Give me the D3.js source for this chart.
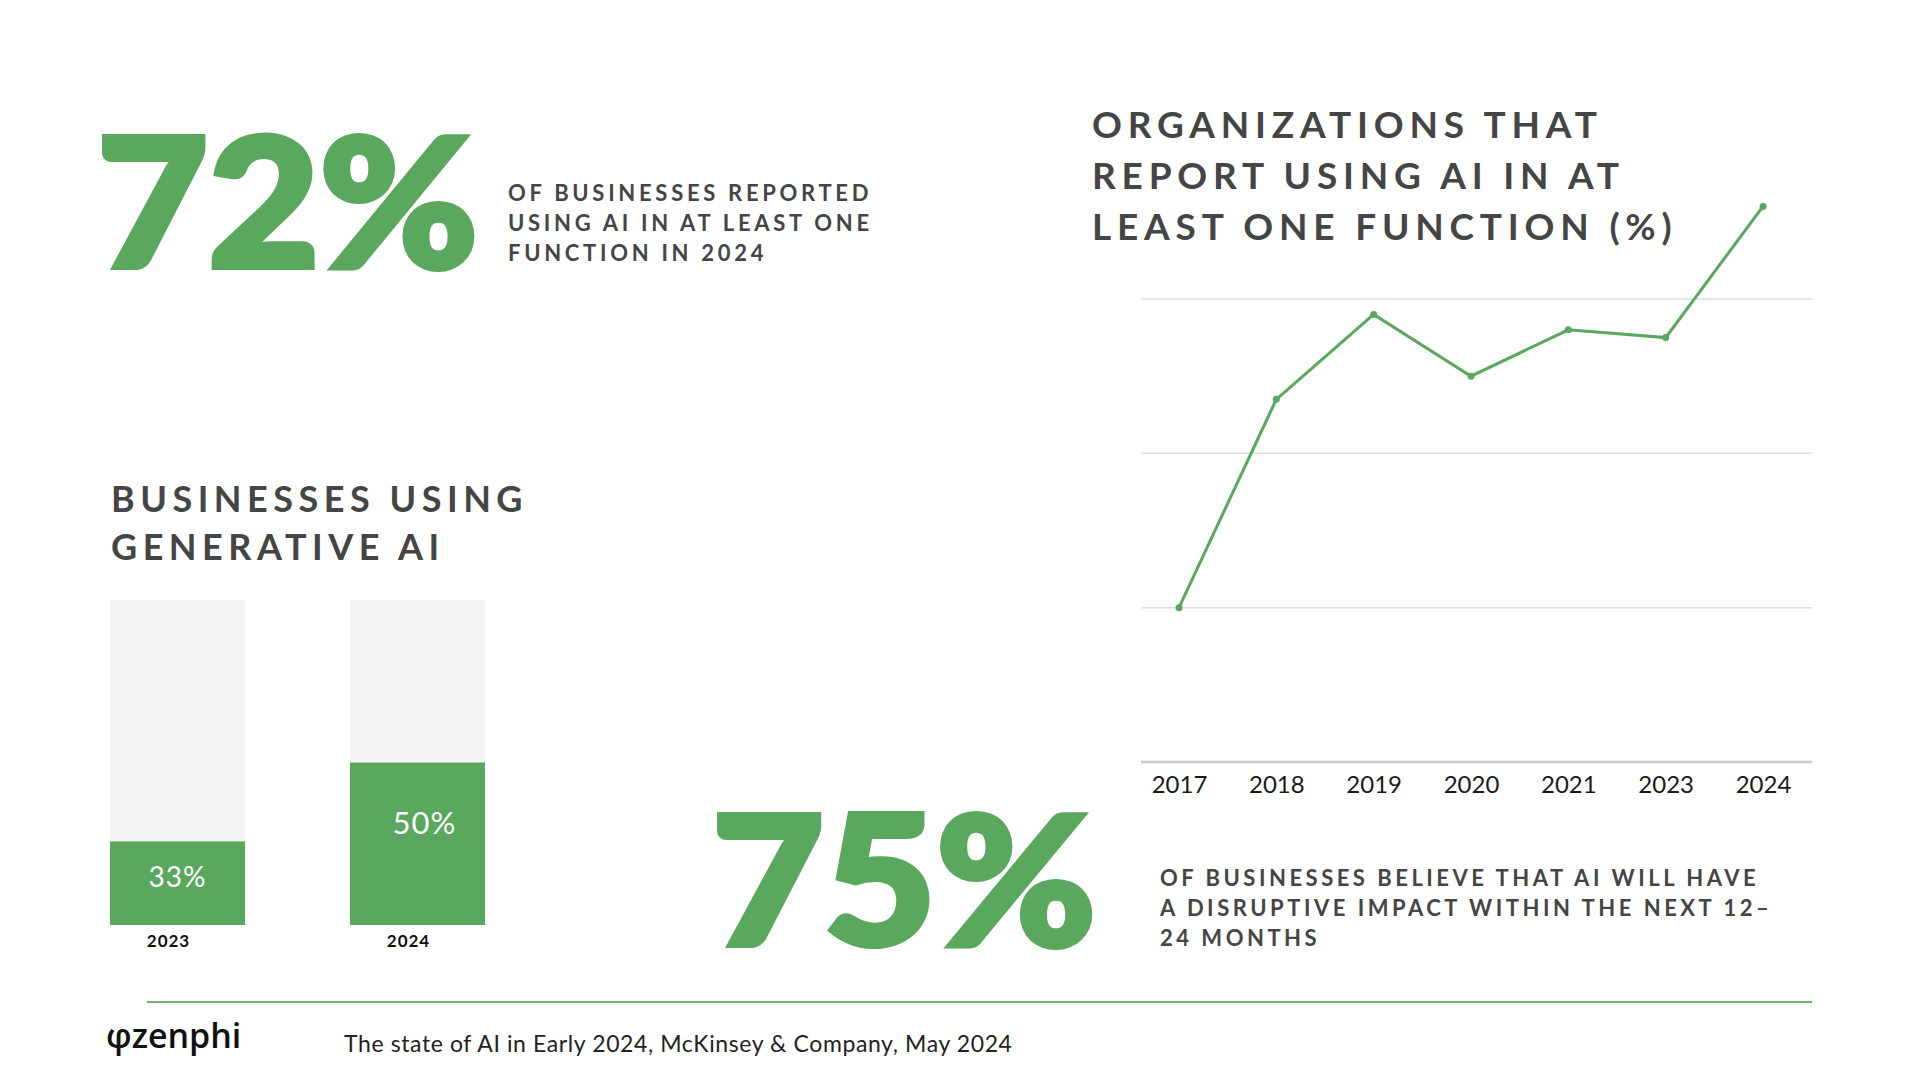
<!DOCTYPE html>
<html>
<head>
<meta charset="utf-8">
<script src="https://cdn.jsdelivr.net/npm/d3@7"></script>
<style>
  body { margin: 0; background: #fff; }
  svg { display: block; }
  .head { font-family: Lato, "Open Sans", sans-serif; font-weight: 700; fill: #444544; }
</style>
</head>
<body>
<div id="chart"></div>
<script>
// zenphi slide: AI adoption stats
// ===============================

var green = '#5aa75e';

// line chart - organizations using AI in at least one function (%)
var lineYears  = ['2017', '2018', '2019', '2020', '2021', '2023', '2024'];
var lineValues = [20, 47, 58, 50, 56, 55, 72];
var gridTicks  = [20, 40, 60];

// bars - businesses using generative AI
var barYears  = ['2023', '2024'];
var barValues = [33, 50];

// big headline numbers
var statValues = [72, 75];

var width = 1920,
    height = 1080;

var svg = d3.select('#chart').append('svg')
    .attr('width', width)
    .attr('height', height);

// ---- big stats
function bigStat(v, x, y, w) {
  svg.append('text')
     .attr('x', x).attr('y', y)
     .attr('textLength', w)
     .attr('lengthAdjust', 'spacingAndGlyphs')
     .style('font-family', 'Lato, Roboto, sans-serif')
     .style('font-weight', 900)
     .style('font-size', '180px')
     .attr('fill', green)
     .attr('stroke', green)
     .attr('stroke-width', 6)
     .attr('stroke-linejoin', 'miter')
     .text(v + '%');
}
bigStat(statValues[0], 97, 267, 381);
bigStat(statValues[1], 712, 945, 384);

function block(lines, x, y, size, lh, ls) {
  var t = svg.append('text').attr('class', 'head')
     .style('font-size', size + 'px')
     .style('letter-spacing', ls + 'px');
  lines.forEach(function(l, i) {
    t.append('tspan').attr('x', x).attr('y', y + i * lh).text(l);
  });
}

block(['OF BUSINESSES REPORTED', 'USING AI IN AT LEAST ONE', 'FUNCTION IN 2024'], 508, 201, 22, 30, 3.7);
block(['OF BUSINESSES BELIEVE THAT AI WILL HAVE', 'A DISRUPTIVE IMPACT WITHIN THE NEXT 12–', '24 MONTHS'], 1160, 886, 22, 30, 3.5);
block(['ORGANIZATIONS THAT', 'REPORT USING AI IN AT', 'LEAST ONE FUNCTION (%)'], 1092, 138, 37, 51, 5.8);
block(['BUSINESSES USING', 'GENERATIVE AI'], 111, 512, 36, 48, 5.5);

// ---- line chart
var x = d3.scalePoint().domain(lineYears).range([1179, 1763]);
var y = d3.scaleLinear().domain([0, 60]).range([762, 299]);

svg.selectAll('line.grid')
   .data(gridTicks)
   .enter().append('line')
   .attr('class', 'grid')
   .attr('x1', 1141).attr('x2', 1812)
   .attr('y1', d => y(d)).attr('y2', d => y(d))
   .attr('stroke', '#dedede')
   .attr('stroke-width', 1.5);

var xAxis = svg.append('g')
   .attr('transform', 'translate(0,' + y(0) + ')')
   .call(d3.axisBottom(x).tickSize(0).tickPadding(14));
xAxis.select('.domain').attr('d', 'M1141,0H1812').attr('stroke', '#c9c9c9').attr('stroke-width', 2.5);
xAxis.selectAll('text')
   .style('font-family', 'Lato, "Open Sans", sans-serif')
   .style('font-size', '24px')
   .attr('fill', '#1a1a1a');

var line = d3.line()
   .x((d, i) => x(lineYears[i]))
   .y(d => y(d));

svg.append('path')
   .datum(lineValues)
   .attr('d', line)
   .attr('fill', 'none')
   .attr('stroke', green)
   .attr('stroke-width', 3);

svg.selectAll('circle.pt')
   .data(lineValues)
   .enter().append('circle')
   .attr('class', 'pt')
   .attr('cx', (d, i) => x(lineYears[i]))
   .attr('cy', d => y(d))
   .attr('r', 3.5)
   .attr('fill', green);

// ---- bars (infographic, not zero based)
var bx = d3.scaleBand().domain(barYears).range([110, 485]).paddingInner(0.4375);
var by = d3.scaleLinear().domain([15, 85]).range([925, 600]);

svg.selectAll('rect.track')
   .data(barYears)
   .enter().append('rect')
   .attr('class', 'track')
   .attr('x', d => bx(d)).attr('width', bx.bandwidth())
   .attr('y', by(85)).attr('height', by(15) - by(85))
   .attr('fill', '#f4f4f4');

svg.selectAll('rect.bar')
   .data(barValues)
   .enter().append('rect')
   .attr('class', 'bar')
   .attr('x', (d, i) => bx(barYears[i])).attr('width', bx.bandwidth())
   .attr('y', d => by(d)).attr('height', d => by(15) - by(d))
   .attr('fill', green);

svg.selectAll('text.val')
   .data(barValues)
   .enter().append('text')
   .attr('class', 'val')
   .attr('x', (d, i) => bx(barYears[i]) + bx.bandwidth() / 2 + i * 7)
   .attr('y', d => by(d) + (by(15) - by(d)) * 0.33 + 18)
   .attr('text-anchor', 'middle')
   .style('font-family', 'Lato, "Open Sans", sans-serif')
   .style('font-size', (d, i) => i ? '31px' : '28px')
   .style('letter-spacing', '1px')
   .attr('fill', '#fff')
   .text(d => d + '%');

svg.selectAll('text.yr')
   .data(barYears)
   .enter().append('text')
   .attr('class', 'yr')
   .attr('x', d => bx(d) + bx.bandwidth() / 2 - 9)
   .attr('y', 947)
   .attr('text-anchor', 'middle')
   .style('font-family', 'Lato, "Open Sans", sans-serif')
   .style('font-weight', 700)
   .style('font-size', '17px')
   .style('letter-spacing', '1px')
   .attr('fill', '#111')
   .text(d => d);

// ---- footer
svg.append('line')
   .attr('x1', 147).attr('x2', 1812)
   .attr('y1', 1002).attr('y2', 1002)
   .attr('stroke', '#74b274')
   .attr('stroke-width', 2);

svg.append('text')
   .attr('x', 106).attr('y', 1048)
   .style('font-family', '"Open Sans", sans-serif')
   .style('font-weight', 600)
   .style('font-size', '34px')
   .attr('fill', '#111')
   .text('φzenphi');

svg.append('text')
   .attr('x', 344).attr('y', 1052)
   .style('font-family', 'Lato, "Open Sans", sans-serif')
   .style('font-size', '23px')
   .style('letter-spacing', '0.6px')
   .attr('fill', '#222')
   .text('The state of AI in Early 2024, McKinsey & Company, May 2024');
</script>
</body>
</html>
